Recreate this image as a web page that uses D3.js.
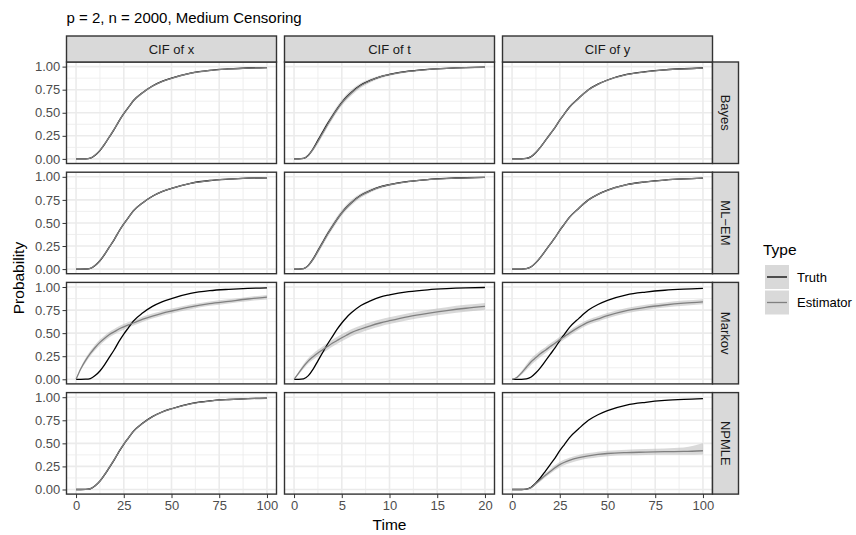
<!DOCTYPE html>
<html>
<head>
<meta charset="utf-8">
<script src="https://cdn.jsdelivr.net/npm/d3@7"></script>
<style>
body { margin: 0; background: #fff; }
text { font-family: "Liberation Sans", Arial, sans-serif; }
</style>
</head>
<body>
<script>
// facet labels
var rowNames = ["Bayes", "ML\u2212EM", "Markov", "NPMLE"];
var colNames = ["CIF of x", "CIF of t", "CIF of y"];
var legendNames = ["Truth", "Estimator"];

// time grids (x and y panels use 0-100, t panel 0-20)
var timeXY = [0,2.5,5,7.5,10,12.5,15,17.5,20,22.5,25,27.5,30,35,40,45,50,60,70,80,90,100];
var timeT  = [0,0.5,1,1.5,2,2.5,3,3.5,4,4.5,5,5.5,6,7,8,9,10,12,14,16,18,20];

// axis ticks
var yTicks = [0, 0.25, 0.5, 0.75, 1];
var yMinor = [0.125, 0.375, 0.625, 0.875];
var xTicksXY = [0, 25, 50, 75, 100];
var xMinorXY = [12.5, 37.5, 62.5, 87.5];
var xTicksT = [0, 5, 10, 15, 20];
var xMinorT = [2.5, 7.5, 12.5, 17.5];

// true CIFs
var truthX = [0,0,0.001,0.008,0.04,0.09,0.16,0.24,0.32,0.41,0.49,0.56,0.63,0.72,0.79,0.84,0.875,0.93,0.96,0.975,0.985,0.99];
var truthT = [0,0,0.005,0.04,0.11,0.2,0.29,0.38,0.46,0.54,0.61,0.67,0.72,0.80,0.85,0.89,0.915,0.95,0.97,0.982,0.99,0.995];
var truthY = [0,0,0,0.005,0.025,0.07,0.13,0.2,0.27,0.34,0.42,0.49,0.56,0.66,0.75,0.81,0.855,0.915,0.945,0.965,0.977,0.985];

// Bayes
var estBayesX = [0,0,0.001,0.009,0.042,0.092,0.162,0.242,0.322,0.41,0.49,0.56,0.628,0.718,0.788,0.838,0.873,0.928,0.958,0.974,0.984,0.989];
var loBayesX  = [0,0,0,0.005,0.034,0.081,0.15,0.229,0.309,0.397,0.478,0.549,0.618,0.709,0.78,0.831,0.867,0.923,0.954,0.97,0.98,0.985];
var hiBayesX  = [0,0,0.003,0.013,0.05,0.103,0.174,0.255,0.335,0.423,0.502,0.571,0.638,0.727,0.796,0.845,0.879,0.933,0.962,0.978,0.988,0.993];
var estBayesT = [0,0,0.005,0.038,0.105,0.19,0.28,0.37,0.455,0.535,0.605,0.665,0.715,0.795,0.848,0.888,0.913,0.948,0.968,0.98,0.988,0.993];
var loBayesT  = [0,0,0.002,0.028,0.085,0.165,0.25,0.34,0.425,0.505,0.575,0.635,0.685,0.77,0.828,0.872,0.9,0.94,0.962,0.975,0.984,0.99];
var hiBayesT  = [0,0,0.009,0.05,0.125,0.22,0.315,0.405,0.49,0.57,0.64,0.7,0.748,0.822,0.868,0.903,0.926,0.957,0.974,0.985,0.992,0.996];
var estBayesY = [0,0,0,0.005,0.026,0.071,0.131,0.2,0.27,0.342,0.42,0.49,0.558,0.658,0.748,0.808,0.853,0.913,0.944,0.964,0.976,0.984];
var loBayesY  = [0,0,0,0.002,0.019,0.062,0.122,0.191,0.261,0.333,0.411,0.481,0.549,0.65,0.74,0.8,0.846,0.907,0.939,0.959,0.971,0.979];
var hiBayesY  = [0,0,0,0.008,0.033,0.08,0.14,0.209,0.279,0.351,0.429,0.499,0.567,0.666,0.756,0.816,0.86,0.919,0.949,0.969,0.981,0.989];

// ML-EM
var estMlX = [0,0,0.001,0.008,0.041,0.091,0.161,0.241,0.321,0.41,0.49,0.56,0.629,0.719,0.789,0.839,0.874,0.929,0.959,0.975,0.985,0.99];
var loMlX  = [0,0,0,0.004,0.033,0.08,0.149,0.228,0.308,0.397,0.478,0.549,0.619,0.71,0.781,0.832,0.868,0.924,0.955,0.971,0.981,0.986];
var hiMlX  = [0,0,0.003,0.012,0.049,0.102,0.173,0.254,0.334,0.423,0.502,0.571,0.639,0.728,0.797,0.846,0.88,0.934,0.963,0.979,0.989,0.994];
var estMlT = [0,0,0.005,0.039,0.107,0.195,0.285,0.375,0.458,0.538,0.608,0.668,0.718,0.798,0.849,0.889,0.914,0.949,0.969,0.981,0.989,0.994];
var loMlT  = [0,0,0.002,0.029,0.088,0.17,0.256,0.345,0.428,0.508,0.58,0.64,0.69,0.773,0.83,0.874,0.902,0.941,0.963,0.976,0.985,0.991];
var hiMlT  = [0,0,0.009,0.05,0.126,0.222,0.316,0.407,0.49,0.57,0.64,0.7,0.748,0.822,0.868,0.903,0.926,0.957,0.974,0.985,0.992,0.997];
var estMlY = [0,0,0,0.005,0.025,0.07,0.13,0.2,0.27,0.341,0.42,0.49,0.559,0.659,0.749,0.809,0.854,0.914,0.945,0.965,0.977,0.985];
var loMlY  = [0,0,0,0.002,0.018,0.061,0.121,0.191,0.261,0.332,0.411,0.481,0.55,0.651,0.741,0.801,0.847,0.908,0.94,0.96,0.972,0.98];
var hiMlY  = [0,0,0,0.008,0.032,0.079,0.139,0.209,0.279,0.35,0.429,0.499,0.568,0.667,0.757,0.817,0.861,0.92,0.95,0.97,0.982,0.99];

// Markov
var estMarkovX = [0,0.115,0.205,0.28,0.345,0.4,0.445,0.485,0.515,0.545,0.568,0.59,0.61,0.652,0.685,0.715,0.74,0.785,0.82,0.845,0.87,0.89];
var loMarkovX  = [0,0.1,0.18,0.252,0.315,0.37,0.415,0.455,0.485,0.515,0.538,0.56,0.582,0.624,0.658,0.689,0.714,0.76,0.796,0.822,0.847,0.866];
var hiMarkovX  = [0,0.13,0.23,0.308,0.375,0.43,0.475,0.515,0.545,0.575,0.598,0.62,0.638,0.68,0.712,0.741,0.766,0.81,0.844,0.868,0.893,0.914];
var estMarkovT = [0,0.07,0.14,0.2,0.245,0.285,0.32,0.355,0.39,0.42,0.45,0.478,0.505,0.545,0.58,0.61,0.635,0.68,0.715,0.745,0.77,0.79];
var loMarkovT  = [0,0.055,0.115,0.17,0.212,0.25,0.284,0.318,0.352,0.382,0.412,0.44,0.467,0.507,0.543,0.573,0.598,0.643,0.678,0.708,0.733,0.753];
var hiMarkovT  = [0,0.085,0.165,0.23,0.278,0.32,0.356,0.392,0.428,0.458,0.488,0.516,0.543,0.583,0.617,0.647,0.672,0.717,0.752,0.782,0.807,0.827];
var estMarkovY = [0,0.02,0.07,0.13,0.19,0.235,0.28,0.315,0.355,0.39,0.43,0.465,0.5,0.565,0.62,0.655,0.69,0.745,0.78,0.805,0.825,0.84];
var loMarkovY  = [0,0.01,0.05,0.1,0.155,0.2,0.245,0.282,0.322,0.358,0.398,0.434,0.47,0.536,0.591,0.627,0.662,0.717,0.752,0.777,0.797,0.812];
var hiMarkovY  = [0,0.03,0.09,0.16,0.225,0.27,0.315,0.348,0.388,0.422,0.462,0.496,0.53,0.594,0.649,0.683,0.718,0.773,0.808,0.833,0.853,0.868];

// NPMLE (no estimate for t)
var estNpmleX = [0,0,0.001,0.008,0.041,0.092,0.163,0.243,0.323,0.412,0.491,0.561,0.629,0.718,0.788,0.838,0.873,0.928,0.958,0.974,0.984,0.989];
var loNpmleX  = [0,0,0,0.003,0.031,0.079,0.149,0.228,0.308,0.398,0.478,0.549,0.618,0.708,0.779,0.83,0.866,0.922,0.953,0.969,0.979,0.984];
var hiNpmleX  = [0,0,0.003,0.013,0.051,0.105,0.177,0.258,0.338,0.426,0.504,0.573,0.64,0.728,0.797,0.846,0.88,0.934,0.963,0.979,0.989,0.994];
var estNpmleY = [0,0,0,0.003,0.02,0.065,0.11,0.155,0.195,0.235,0.27,0.295,0.315,0.345,0.365,0.38,0.39,0.4,0.405,0.41,0.412,0.42];
var loNpmleY  = [0,0,0,0.001,0.012,0.05,0.09,0.132,0.17,0.208,0.242,0.266,0.285,0.315,0.335,0.35,0.36,0.37,0.374,0.377,0.376,0.38];
var hiNpmleY  = [0,0,0,0.006,0.03,0.082,0.13,0.178,0.22,0.262,0.298,0.324,0.345,0.375,0.395,0.41,0.42,0.432,0.438,0.445,0.455,0.5];

// panel lookup [row][col]
var truths = [truthX, truthT, truthY];
var estimates = [
  [{est: estBayesX, lo: loBayesX, hi: hiBayesX}, {est: estBayesT, lo: loBayesT, hi: hiBayesT}, {est: estBayesY, lo: loBayesY, hi: hiBayesY}],
  [{est: estMlX, lo: loMlX, hi: hiMlX}, {est: estMlT, lo: loMlT, hi: hiMlT}, {est: estMlY, lo: loMlY, hi: hiMlY}],
  [{est: estMarkovX, lo: loMarkovX, hi: hiMarkovX}, {est: estMarkovT, lo: loMarkovT, hi: hiMarkovT}, {est: estMarkovY, lo: loMarkovY, hi: hiMarkovY}],
  [{est: estNpmleX, lo: loNpmleX, hi: hiNpmleX}, null, {est: estNpmleY, lo: loNpmleY, hi: hiNpmleY}]
];

var width = 856, height = 535;
var panelLeft = 66.5, panelTop = 62;
var panelW = 210, panelH = 101.5, gapX = 8, gapY = 8.7;
var stripH = 26;

var truthColor = "#000000", estColor = "#808080";
var ribbonFill = "#b3b3b3", ribbonOpacity = 0.5;
var gridColor = "#ebebeb", borderColor = "#333333", stripFill = "#d9d9d9";
var lineW = 1.3;

var svg = d3.select("body").append("svg")
    .attr("width", width)
    .attr("height", height);

svg.append("rect").attr("width", width).attr("height", height).attr("fill", "white");

var y = d3.scaleLinear().domain([-0.05, 1.05]).range([panelH, 0]);
var xXY = d3.scaleLinear().domain([-5, 105]).range([0, panelW]);
var xT = d3.scaleLinear().domain([-1, 21]).range([0, panelW]);

// title
svg.append("text")
    .attr("x", panelLeft)
    .attr("y", 22.5)
    .attr("font-size", "15px")
    .attr("fill", "#000")
    .text("p = 2, n = 2000, Medium Censoring");

rowNames.forEach(function(rowName, r) {
  colNames.forEach(function(colName, c) {
    var px = panelLeft + c * (panelW + gapX);
    var py = panelTop + r * (panelH + gapY);
    var x = c == 1 ? xT : xXY;
    var times = c == 1 ? timeT : timeXY;
    var majors = c == 1 ? xTicksT : xTicksXY;
    var minors = c == 1 ? xMinorT : xMinorXY;

    var g = svg.append("g").attr("transform", "translate(" + px + "," + py + ")");

    // grid
    g.selectAll(".vminor").data(minors).enter().append("line")
        .attr("x1", function(d) { return x(d); }).attr("x2", function(d) { return x(d); })
        .attr("y1", 0).attr("y2", panelH)
        .attr("stroke", gridColor).attr("stroke-width", 0.8);
    g.selectAll(".hminor").data(yMinor).enter().append("line")
        .attr("y1", function(d) { return y(d); }).attr("y2", function(d) { return y(d); })
        .attr("x1", 0).attr("x2", panelW)
        .attr("stroke", gridColor).attr("stroke-width", 0.8);
    g.selectAll(".vmajor").data(majors).enter().append("line")
        .attr("x1", function(d) { return x(d); }).attr("x2", function(d) { return x(d); })
        .attr("y1", 0).attr("y2", panelH)
        .attr("stroke", gridColor).attr("stroke-width", 1.6);
    g.selectAll(".hmajor").data(yTicks).enter().append("line")
        .attr("y1", function(d) { return y(d); }).attr("y2", function(d) { return y(d); })
        .attr("x1", 0).attr("x2", panelW)
        .attr("stroke", gridColor).attr("stroke-width", 1.6);

    var line = d3.line()
        .x(function(d, i) { return x(times[i]); })
        .y(function(d) { return y(d); })
        .curve(d3.curveMonotoneX);

    var e = estimates[r][c];
    if (e) {
      var area = d3.area()
          .x(function(d, i) { return x(times[i]); })
          .y0(function(d, i) { return y(e.lo[i]); })
          .y1(function(d, i) { return y(e.hi[i]); })
          .curve(d3.curveMonotoneX);
      g.append("path").datum(e.est)
          .attr("d", area)
          .attr("fill", ribbonFill)
          .attr("opacity", ribbonOpacity);
      g.append("path").datum(truths[c])
          .attr("d", line)
          .attr("fill", "none")
          .attr("stroke", truthColor)
          .attr("stroke-width", lineW);
      g.append("path").datum(e.est)
          .attr("d", line)
          .attr("fill", "none")
          .attr("stroke", estColor)
          .attr("stroke-width", lineW);
    }

    // border
    g.append("rect")
        .attr("width", panelW).attr("height", panelH)
        .attr("fill", "none")
        .attr("stroke", borderColor).attr("stroke-width", 1.4);

    // y axis on first column
    if (c == 0) {
      var ya = g.append("g").call(d3.axisLeft(y).tickValues(yTicks).tickFormat(d3.format(".2f")).tickSize(4).tickPadding(2.2));
      ya.select(".domain").remove();
      ya.selectAll("line").attr("stroke", borderColor).attr("stroke-width", 1);
      ya.selectAll("text").attr("fill", "#4d4d4d").attr("font-size", "13px")
          .attr("font-family", "Liberation Sans, Arial, sans-serif");
    }
    // x axis on bottom row
    if (r == rowNames.length - 1) {
      var xa = g.append("g").attr("transform", "translate(0," + panelH + ")")
          .call(d3.axisBottom(x).tickValues(majors).tickFormat(d3.format("d")).tickSize(4).tickPadding(2.2));
      xa.select(".domain").remove();
      xa.selectAll("line").attr("stroke", borderColor).attr("stroke-width", 1);
      xa.selectAll("text").attr("fill", "#4d4d4d").attr("font-size", "13px")
          .attr("font-family", "Liberation Sans, Arial, sans-serif");
    }

    // top strips
    if (r == 0) {
      svg.append("rect")
          .attr("x", px).attr("y", panelTop - stripH)
          .attr("width", panelW).attr("height", stripH)
          .attr("fill", stripFill).attr("stroke", borderColor).attr("stroke-width", 1.4);
      svg.append("text")
          .attr("x", px + panelW / 2).attr("y", panelTop - stripH / 2)
          .attr("text-anchor", "middle").attr("dy", "0.35em")
          .attr("font-size", "13px").attr("fill", "#1a1a1a")
          .text(colName);
    }
    // right strips
    if (c == colNames.length - 1) {
      var sx = px + panelW;
      svg.append("rect")
          .attr("x", sx).attr("y", py)
          .attr("width", stripH).attr("height", panelH)
          .attr("fill", stripFill).attr("stroke", borderColor).attr("stroke-width", 1.4);
      svg.append("text")
          .attr("transform", "translate(" + (sx + stripH / 2) + "," + (py + panelH / 2) + ") rotate(90)")
          .attr("text-anchor", "middle").attr("dy", "0.35em")
          .attr("font-size", "13px").attr("fill", "#1a1a1a")
          .text(rowName);
    }
  });
});

// axis titles
var gridRight = panelLeft + 3 * panelW + 2 * gapX;
var gridBottom = panelTop + 4 * panelH + 3 * gapY;
svg.append("text")
    .attr("x", (panelLeft + gridRight) / 2).attr("y", 530)
    .attr("text-anchor", "middle").attr("font-size", "15.5px")
    .text("Time");
svg.append("text")
    .attr("transform", "translate(24," + (panelTop + gridBottom) / 2 + ") rotate(-90)")
    .attr("text-anchor", "middle").attr("font-size", "15.5px")
    .text("Probability");

// legend
var legend = svg.append("g").attr("transform", "translate(763,0)");
legend.append("text").attr("x", 0).attr("y", 255).attr("font-size", "15.5px").text("Type");
legendNames.forEach(function(name, i) {
  var ky = 265 + i * 25.5;
  legend.append("rect")
      .attr("x", 2).attr("y", ky).attr("width", 24).attr("height", 24)
      .attr("fill", ribbonFill).attr("opacity", ribbonOpacity);
  legend.append("line")
      .attr("x1", 4).attr("x2", 24).attr("y1", ky + 12).attr("y2", ky + 12)
      .attr("stroke", i == 0 ? truthColor : estColor).attr("stroke-width", lineW);
  legend.append("text")
      .attr("x", 34).attr("y", ky + 12).attr("dy", "0.35em")
      .attr("font-size", "13px").text(name);
});
</script>
</body>
</html>
